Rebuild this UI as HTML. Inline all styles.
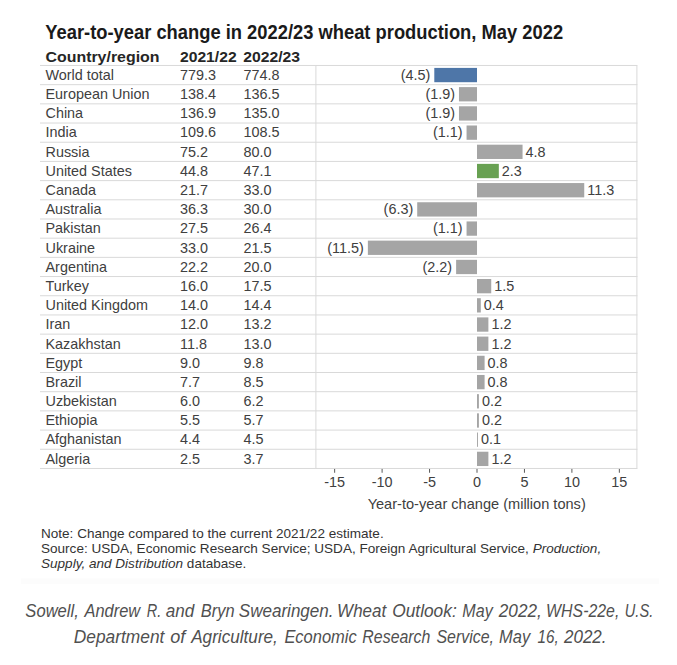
<!DOCTYPE html>
<html><head><meta charset="utf-8"><title>Wheat production change</title>
<style>
html,body{margin:0;padding:0;background:#fff;}
body{width:677px;height:665px;overflow:hidden;}
svg{display:block;}
text{font-family:"Liberation Sans",Arial,sans-serif;}
.title{font-size:19.4px;font-weight:bold;fill:#1a1a1a;}
.hdr{font-size:15px;font-weight:bold;fill:#262626;}
.row{font-size:14.4px;fill:#404040;}
.note{font-size:13.55px;fill:#333;}
.cap{font-size:17.8px;font-style:italic;fill:#505050;}
</style></head>
<body>
<svg width="677" height="665" viewBox="0 0 677 665">
<rect width="677" height="665" fill="#fff"/>
<rect x="21" y="578.5" width="638" height="5.5" fill="#fcfcfc"/>
<line x1="40" y1="65.47" x2="637.4" y2="65.47" stroke="#d9d9d9" stroke-width="1"/>
<line x1="40" y1="84.66" x2="637.4" y2="84.66" stroke="#d9d9d9" stroke-width="1"/>
<line x1="40" y1="103.85" x2="637.4" y2="103.85" stroke="#d9d9d9" stroke-width="1"/>
<line x1="40" y1="123.04" x2="637.4" y2="123.04" stroke="#d9d9d9" stroke-width="1"/>
<line x1="40" y1="142.23" x2="637.4" y2="142.23" stroke="#d9d9d9" stroke-width="1"/>
<line x1="40" y1="161.42" x2="637.4" y2="161.42" stroke="#d9d9d9" stroke-width="1"/>
<line x1="40" y1="180.61" x2="637.4" y2="180.61" stroke="#d9d9d9" stroke-width="1"/>
<line x1="40" y1="199.8" x2="637.4" y2="199.8" stroke="#d9d9d9" stroke-width="1"/>
<line x1="40" y1="218.99" x2="637.4" y2="218.99" stroke="#d9d9d9" stroke-width="1"/>
<line x1="40" y1="238.18" x2="637.4" y2="238.18" stroke="#d9d9d9" stroke-width="1"/>
<line x1="40" y1="257.37" x2="637.4" y2="257.37" stroke="#d9d9d9" stroke-width="1"/>
<line x1="40" y1="276.56" x2="637.4" y2="276.56" stroke="#d9d9d9" stroke-width="1"/>
<line x1="40" y1="295.75" x2="637.4" y2="295.75" stroke="#d9d9d9" stroke-width="1"/>
<line x1="40" y1="314.94" x2="637.4" y2="314.94" stroke="#d9d9d9" stroke-width="1"/>
<line x1="40" y1="334.13" x2="637.4" y2="334.13" stroke="#d9d9d9" stroke-width="1"/>
<line x1="40" y1="353.32" x2="637.4" y2="353.32" stroke="#d9d9d9" stroke-width="1"/>
<line x1="40" y1="372.51" x2="637.4" y2="372.51" stroke="#d9d9d9" stroke-width="1"/>
<line x1="40" y1="391.7" x2="637.4" y2="391.7" stroke="#d9d9d9" stroke-width="1"/>
<line x1="40" y1="410.89" x2="637.4" y2="410.89" stroke="#d9d9d9" stroke-width="1"/>
<line x1="40" y1="430.08" x2="637.4" y2="430.08" stroke="#d9d9d9" stroke-width="1"/>
<line x1="40" y1="449.27" x2="637.4" y2="449.27" stroke="#d9d9d9" stroke-width="1"/>
<line x1="40" y1="468.46" x2="637.4" y2="468.46" stroke="#d9d9d9" stroke-width="1"/>
<line x1="315.9" y1="65.47" x2="315.9" y2="468.46" stroke="#d9d9d9" stroke-width="1"/>
<line x1="636.9" y1="65.47" x2="636.9" y2="468.46" stroke="#d9d9d9" stroke-width="1"/>
<text x="45.3" y="38.9" class="title" textLength="517.8" lengthAdjust="spacingAndGlyphs">Year-to-year change in 2022/23 wheat production, May 2022</text>
<text x="45.5" y="62" class="hdr" textLength="114" lengthAdjust="spacingAndGlyphs">Country/region</text>
<text x="180" y="62" class="hdr" textLength="56.6" lengthAdjust="spacingAndGlyphs">2021/22</text>
<text x="243.2" y="62" class="hdr" textLength="56.9" lengthAdjust="spacingAndGlyphs">2022/23</text>
<text x="45.5" y="79.87" class="row">World total</text>
<text x="180" y="79.87" class="row">779.3</text>
<text x="243.5" y="79.87" class="row">774.8</text>
<rect x="434.3" y="67.91" width="42.7" height="14.3" fill="#4e76a8"/>
<text x="430.3" y="79.87" class="row" text-anchor="end">(4.5)</text>
<text x="45.5" y="99.06" class="row">European Union</text>
<text x="180" y="99.06" class="row">138.4</text>
<text x="243.5" y="99.06" class="row">136.5</text>
<rect x="458.97" y="87.1" width="18.03" height="14.3" fill="#a5a5a5"/>
<text x="454.97" y="99.06" class="row" text-anchor="end">(1.9)</text>
<text x="45.5" y="118.25" class="row">China</text>
<text x="180" y="118.25" class="row">136.9</text>
<text x="243.5" y="118.25" class="row">135.0</text>
<rect x="458.97" y="106.29" width="18.03" height="14.3" fill="#a5a5a5"/>
<text x="454.97" y="118.25" class="row" text-anchor="end">(1.9)</text>
<text x="45.5" y="137.44" class="row">India</text>
<text x="180" y="137.44" class="row">109.6</text>
<text x="243.5" y="137.44" class="row">108.5</text>
<rect x="466.56" y="125.49" width="10.44" height="14.3" fill="#a5a5a5"/>
<text x="462.56" y="137.44" class="row" text-anchor="end">(1.1)</text>
<text x="45.5" y="156.63" class="row">Russia</text>
<text x="180" y="156.63" class="row">75.2</text>
<text x="243.5" y="156.63" class="row">80.0</text>
<rect x="477" y="144.68" width="45.55" height="14.3" fill="#a5a5a5"/>
<text x="525.55" y="156.63" class="row">4.8</text>
<text x="45.5" y="175.82" class="row">United States</text>
<text x="180" y="175.82" class="row">44.8</text>
<text x="243.5" y="175.82" class="row">47.1</text>
<rect x="477" y="163.87" width="21.83" height="14.3" fill="#68a152"/>
<text x="501.83" y="175.82" class="row">2.3</text>
<text x="45.5" y="195.01" class="row">Canada</text>
<text x="180" y="195.01" class="row">21.7</text>
<text x="243.5" y="195.01" class="row">33.0</text>
<rect x="477" y="183.06" width="107.24" height="14.3" fill="#a5a5a5"/>
<text x="587.24" y="195.01" class="row">11.3</text>
<text x="45.5" y="214.2" class="row">Australia</text>
<text x="180" y="214.2" class="row">36.3</text>
<text x="243.5" y="214.2" class="row">30.0</text>
<rect x="417.21" y="202.25" width="59.79" height="14.3" fill="#a5a5a5"/>
<text x="413.21" y="214.2" class="row" text-anchor="end">(6.3)</text>
<text x="45.5" y="233.39" class="row">Pakistan</text>
<text x="180" y="233.39" class="row">27.5</text>
<text x="243.5" y="233.39" class="row">26.4</text>
<rect x="466.56" y="221.44" width="10.44" height="14.3" fill="#a5a5a5"/>
<text x="462.56" y="233.39" class="row" text-anchor="end">(1.1)</text>
<text x="45.5" y="252.58" class="row">Ukraine</text>
<text x="180" y="252.58" class="row">33.0</text>
<text x="243.5" y="252.58" class="row">21.5</text>
<rect x="367.87" y="240.62" width="109.14" height="14.3" fill="#a5a5a5"/>
<text x="363.87" y="252.58" class="row" text-anchor="end">(11.5)</text>
<text x="45.5" y="271.77" class="row">Argentina</text>
<text x="180" y="271.77" class="row">22.2</text>
<text x="243.5" y="271.77" class="row">20.0</text>
<rect x="456.12" y="259.82" width="20.88" height="14.3" fill="#a5a5a5"/>
<text x="452.12" y="271.77" class="row" text-anchor="end">(2.2)</text>
<text x="45.5" y="290.96" class="row">Turkey</text>
<text x="180" y="290.96" class="row">16.0</text>
<text x="243.5" y="290.96" class="row">17.5</text>
<rect x="477" y="279.01" width="14.23" height="14.3" fill="#a5a5a5"/>
<text x="494.24" y="290.96" class="row">1.5</text>
<text x="45.5" y="310.15" class="row">United Kingdom</text>
<text x="180" y="310.15" class="row">14.0</text>
<text x="243.5" y="310.15" class="row">14.4</text>
<rect x="477" y="298.2" width="3.8" height="14.3" fill="#a5a5a5"/>
<text x="483.8" y="310.15" class="row">0.4</text>
<text x="45.5" y="329.34" class="row">Iran</text>
<text x="180" y="329.34" class="row">12.0</text>
<text x="243.5" y="329.34" class="row">13.2</text>
<rect x="477" y="317.39" width="11.39" height="14.3" fill="#a5a5a5"/>
<text x="491.39" y="329.34" class="row">1.2</text>
<text x="45.5" y="348.53" class="row">Kazakhstan</text>
<text x="180" y="348.53" class="row">11.8</text>
<text x="243.5" y="348.53" class="row">13.0</text>
<rect x="477" y="336.58" width="11.39" height="14.3" fill="#a5a5a5"/>
<text x="491.39" y="348.53" class="row">1.2</text>
<text x="45.5" y="367.72" class="row">Egypt</text>
<text x="180" y="367.72" class="row">9.0</text>
<text x="243.5" y="367.72" class="row">9.8</text>
<rect x="477" y="355.77" width="7.59" height="14.3" fill="#a5a5a5"/>
<text x="487.59" y="367.72" class="row">0.8</text>
<text x="45.5" y="386.91" class="row">Brazil</text>
<text x="180" y="386.91" class="row">7.7</text>
<text x="243.5" y="386.91" class="row">8.5</text>
<rect x="477" y="374.96" width="7.59" height="14.3" fill="#a5a5a5"/>
<text x="487.59" y="386.91" class="row">0.8</text>
<text x="45.5" y="406.1" class="row">Uzbekistan</text>
<text x="180" y="406.1" class="row">6.0</text>
<text x="243.5" y="406.1" class="row">6.2</text>
<rect x="477" y="394.15" width="1.9" height="14.3" fill="#a5a5a5"/>
<text x="481.9" y="406.1" class="row">0.2</text>
<text x="45.5" y="425.29" class="row">Ethiopia</text>
<text x="180" y="425.29" class="row">5.5</text>
<text x="243.5" y="425.29" class="row">5.7</text>
<rect x="477" y="413.34" width="1.9" height="14.3" fill="#a5a5a5"/>
<text x="481.9" y="425.29" class="row">0.2</text>
<text x="45.5" y="444.48" class="row">Afghanistan</text>
<text x="180" y="444.48" class="row">4.4</text>
<text x="243.5" y="444.48" class="row">4.5</text>
<rect x="477" y="432.53" width="0.95" height="14.3" fill="#a5a5a5"/>
<text x="480.95" y="444.48" class="row">0.1</text>
<text x="45.5" y="463.67" class="row">Algeria</text>
<text x="180" y="463.67" class="row">2.5</text>
<text x="243.5" y="463.67" class="row">3.7</text>
<rect x="477" y="451.72" width="11.39" height="14.3" fill="#a5a5a5"/>
<text x="491.39" y="463.67" class="row">1.2</text>
<line x1="334.65" y1="468.96" x2="334.65" y2="472.76" stroke="#595959" stroke-width="1"/>
<text x="334.65" y="486.5" class="row" text-anchor="middle">-15</text>
<line x1="382.1" y1="468.96" x2="382.1" y2="472.76" stroke="#595959" stroke-width="1"/>
<text x="382.1" y="486.5" class="row" text-anchor="middle">-10</text>
<line x1="429.55" y1="468.96" x2="429.55" y2="472.76" stroke="#595959" stroke-width="1"/>
<text x="429.55" y="486.5" class="row" text-anchor="middle">-5</text>
<line x1="477" y1="468.96" x2="477" y2="472.76" stroke="#595959" stroke-width="1"/>
<text x="477" y="486.5" class="row" text-anchor="middle">0</text>
<line x1="524.45" y1="468.96" x2="524.45" y2="472.76" stroke="#595959" stroke-width="1"/>
<text x="524.45" y="486.5" class="row" text-anchor="middle">5</text>
<line x1="571.9" y1="468.96" x2="571.9" y2="472.76" stroke="#595959" stroke-width="1"/>
<text x="571.9" y="486.5" class="row" text-anchor="middle">10</text>
<line x1="619.35" y1="468.96" x2="619.35" y2="472.76" stroke="#595959" stroke-width="1"/>
<text x="619.35" y="486.5" class="row" text-anchor="middle">15</text>
<text x="476.7" y="508.9" class="row" text-anchor="middle" textLength="218.1" lengthAdjust="spacingAndGlyphs">Year-to-year change (million tons)</text>
<text x="41" y="537.6" class="note">Note: Change compared to the current 2021/22 estimate.</text>
<text x="41" y="553.1" class="note">Source: USDA, Economic Research Service; USDA, Foreign Agricultural Service, <tspan font-style="italic">Production,</tspan></text>
<text x="41" y="568" class="note"><tspan font-style="italic">Supply, and Distribution</tspan> database.</text>
<text x="25.36" y="617" class="cap" textLength="53.42" lengthAdjust="spacingAndGlyphs">Sowell,</text>
<text x="84.52" y="617" class="cap" textLength="55.62" lengthAdjust="spacingAndGlyphs">Andrew</text>
<text x="146.7" y="617" class="cap" textLength="14.52" lengthAdjust="spacingAndGlyphs">R.</text>
<text x="165.7" y="617" class="cap" textLength="28.46" lengthAdjust="spacingAndGlyphs">and</text>
<text x="200.82" y="617" class="cap" textLength="33.7" lengthAdjust="spacingAndGlyphs">Bryn</text>
<text x="238.8" y="617" class="cap" textLength="94.76" lengthAdjust="spacingAndGlyphs">Swearingen.</text>
<text x="337.12" y="617" class="cap" textLength="49.04" lengthAdjust="spacingAndGlyphs">Wheat</text>
<text x="392.26" y="617" class="cap" textLength="64.48" lengthAdjust="spacingAndGlyphs">Outlook:</text>
<text x="462.36" y="617" class="cap" textLength="30.36" lengthAdjust="spacingAndGlyphs">May</text>
<text x="498.82" y="617" class="cap" textLength="42.96" lengthAdjust="spacingAndGlyphs">2022,</text>
<text x="546.12" y="617" class="cap" textLength="73.22" lengthAdjust="spacingAndGlyphs">WHS-22e,</text>
<text x="624.8" y="617" class="cap" textLength="28.42" lengthAdjust="spacingAndGlyphs">U.S.</text>
<text x="73.82" y="643" class="cap" textLength="90.56" lengthAdjust="spacingAndGlyphs">Department</text>
<text x="170.26" y="643" class="cap" textLength="15.1" lengthAdjust="spacingAndGlyphs">of</text>
<text x="191.18" y="643" class="cap" textLength="86.72" lengthAdjust="spacingAndGlyphs">Agriculture,</text>
<text x="284.38" y="643" class="cap" textLength="72.36" lengthAdjust="spacingAndGlyphs">Economic</text>
<text x="362.36" y="643" class="cap" textLength="68.04" lengthAdjust="spacingAndGlyphs">Research</text>
<text x="436.48" y="643" class="cap" textLength="57.52" lengthAdjust="spacingAndGlyphs">Service,</text>
<text x="499.04" y="643" class="cap" textLength="31.12" lengthAdjust="spacingAndGlyphs">May</text>
<text x="537.48" y="643" class="cap" textLength="21.18" lengthAdjust="spacingAndGlyphs">16,</text>
<text x="563.94" y="643" class="cap" textLength="42.62" lengthAdjust="spacingAndGlyphs">2022.</text>
</svg>
</body></html>
